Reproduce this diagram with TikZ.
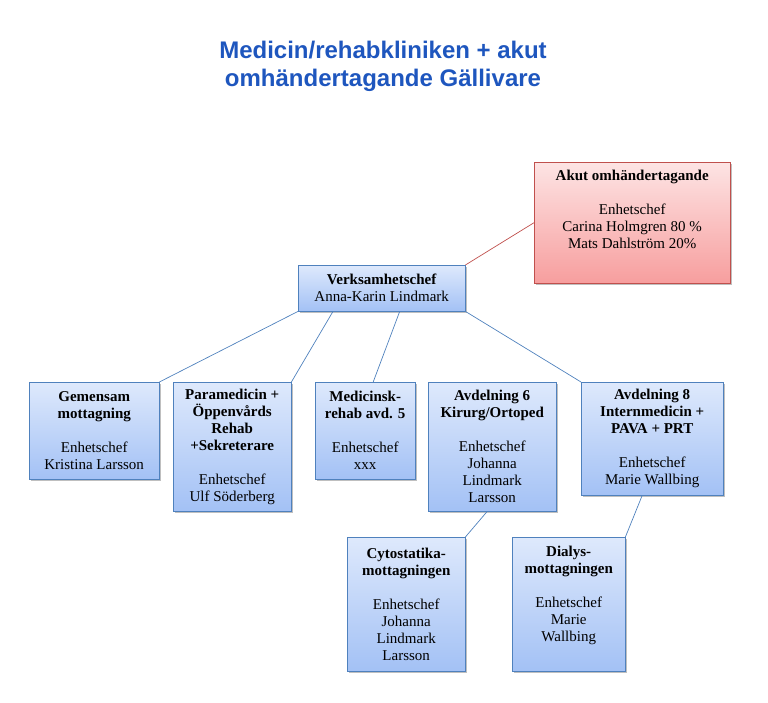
\documentclass[tikz,border=0pt]{standalone}
\usepackage{fontspec}
\setmainfont{Liberation Serif}
\newfontfamily\headfont{Liberation Sans}
\usetikzlibrary{shadows}
\definecolor{ccblue}{RGB}{79,129,189}
\definecolor{cctop}{RGB}{222,233,252}
\definecolor{ccbottom}{RGB}{163,193,245}
\definecolor{ccred}{RGB}{192,80,77}
\definecolor{ccredtop}{RGB}{253,228,228}
\definecolor{ccredbottom}{RGB}{247,158,158}
\definecolor{cctitle}{RGB}{30,86,190}

\begin{document}
\begin{tikzpicture}[x=1pt,y=-1pt,font=\fontsize{15}{17}\selectfont,every node/.style={align=center,inner sep=0pt},
  unit/.style={draw=ccblue,top color=cctop,bottom color=ccbottom,anchor=north west,
    drop shadow={shadow xshift=2pt,shadow yshift=-2pt,opacity=0.5}},
  akutbox/.style={unit,draw=ccred,top color=ccredtop,bottom color=ccredbottom},
  link/.style={draw=ccblue,line width=0.7pt}]
        \useasboundingbox (0,0) rectangle (768,703);
        \node[font=\headfont\bfseries\fontsize{24}{28}\selectfont,text=cctitle] (title) at (383,66) {Medicin/rehabkliniken + akut\\omhändertagande Gällivare};
        \node[akutbox,minimum width=196,minimum height=121,text depth=26pt] (akut) at (534,162) {\textbf{Akut omhändertagande}\\[17pt]Enhetschef\\Carina Holmgren 80 \%\\Mats Dahlström 20\%};
        \node[unit,minimum width=167,minimum height=46] (verk) at (298,265) {\textbf{Verksamhetschef}\\Anna-Karin Lindmark};
        \node[unit,minimum width=130,minimum height=97] (gem) at (29,382) {\textbf{Gemensam}\\\textbf{mottagning}\\[17pt]Enhetschef\\Kristina Larsson};
        \node[unit,minimum width=118,minimum height=129] (para) at (173,382) {\textbf{Paramedicin +}\\\textbf{Öppenvårds}\\\textbf{Rehab}\\\textbf{+Sekreterare}\\[17pt]Enhetschef\\Ulf Söderberg};
        \node[unit,minimum width=100,minimum height=97] (med) at (315,382) {\textbf{Medicinsk-}\\\textbf{rehab avd. 5}\\[17pt]Enhetschef\\xxx};
        \node[unit,minimum width=128,minimum height=129] (avd6) at (428,382) {\textbf{Avdelning 6}\\\textbf{Kirurg/Ortoped}\\[17pt]Enhetschef\\Johanna\\Lindmark\\Larsson};
        \node[unit,minimum width=142,minimum height=113] (avd8) at (581,382) {\textbf{Avdelning 8}\\\textbf{Internmedicin +}\\\textbf{PAVA + PRT}\\[17pt]Enhetschef\\Marie Wallbing};
        \node[unit,minimum width=118,minimum height=134] (cyto) at (347,537) {\textbf{Cytostatika-}\\\textbf{mottagningen}\\[17pt]Enhetschef\\Johanna\\Lindmark\\Larsson};
        \node[unit,minimum width=113,minimum height=134,text depth=20pt] (dial) at (512,537) {\textbf{Dialys-}\\\textbf{mottagningen}\\[17pt]Enhetschef\\Marie\\Wallbing};
        \draw[link,draw=ccred] (verk.north east) -- (akut.west);
        \draw[link] (verk.south west) -- (gem.north east);
        \draw[link] ([xshift=35pt]verk.south west) -- (para.north east);
        \draw[link] ([xshift=18pt]verk.south) -- ([xshift=8pt]med.north);
        \draw[link] (verk.south east) -- (avd8.north west);
        \draw[link] ([xshift=-5pt]avd6.south) -- (cyto.north east);
        \draw[link] ([xshift=-10pt]avd8.south) -- (dial.north east);
      \end{tikzpicture}
\end{document}
